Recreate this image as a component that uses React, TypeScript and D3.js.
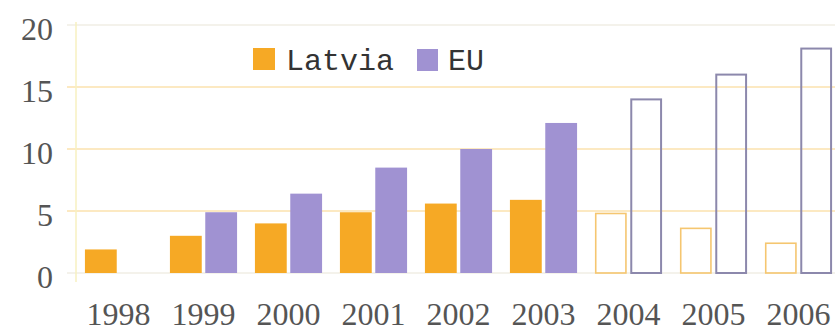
import React from "react";
import * as d3 from "d3";

const years = ["1998", "1999", "2000", "2001", "2002", "2003", "2004", "2005", "2006"];
const latvia = [1.9, 3.0, 4.0, 4.9, 5.6, 5.9, 4.8, 3.6, 2.4];
const eu: (number | null)[] = [null, 4.9, 6.4, 8.5, 10.0, 12.1, 14.0, 16.0, 18.1];
const projected = [false, false, false, false, false, false, true, true, true];
const yTicks = [0, 5, 10, 15, 20];
const seriesNames = ["Latvia", "EU"];

const W = 835;
const H = 331;
const ORANGE = "#F6A925";
const PURPLE = "#A092D2";
const ORANGE_LINE = "#F5C670";
const PURPLE_LINE = "#8C88AC";

export default function App() {
  const x0 = d3.scaleBand<string>().domain(years).range([76, 841]).paddingInner(0.21).paddingOuter(0.105);
  const x1 = d3.scaleBand<string>().domain(seriesNames).range([0, x0.bandwidth()]).paddingInner(0.1);
  const y = d3.scaleLinear().domain([0, 20]).range([273, 25]);

  const series = [
    { name: "Latvia", values: latvia, fill: ORANGE, line: ORANGE_LINE, sw: 1.6 },
    { name: "EU", values: eu, fill: PURPLE, line: PURPLE_LINE, sw: 2 },
  ];

  return (
    <svg width={W} height={H} style={{ position: "absolute", left: 0, top: 0, background: "#fff" }}>
      {/* gridlines */}
      {yTicks.map((t) => (
        <line
          key={"g" + t}
          x1={67}
          x2={W}
          y1={y(t)}
          y2={y(t)}
          stroke={t === 0 || t === 20 ? "#F1EEE4" : "#FBE2AE"}
          strokeWidth={1.5}
        />
      ))}
      {/* y axis */}
      <line x1={76} x2={76} y1={22} y2={282} stroke="#F7F0C0" strokeWidth={1.5} />
      {/* y tick labels */}
      {yTicks.map((t) => (
        <text
          key={"t" + t}
          x={53}
          y={y(t) + 4}
          dy="0.35em"
          textAnchor="end"
          fontFamily="'Liberation Serif', serif"
          fontSize={32}
          fill="#555"
        >
          {t}
        </text>
      ))}
      {/* bars */}
      {years.map((yr, i) => (
        <g key={yr} transform={`translate(${x0(yr)},0)`}>
          {series.map((s) => {
            const v = s.values[i];
            if (v == null) return null;
            const bx = x1(s.name)!;
            const bw = x1.bandwidth();
            const top = y(v);
            const h = y(0) - top;
            return projected[i] ? (
              <rect
                key={s.name}
                x={bx + s.sw / 2}
                y={top}
                width={bw - s.sw}
                height={h}
                fill="none"
                stroke={s.line}
                strokeWidth={s.sw}
              />
            ) : (
              <rect key={s.name} x={bx} y={top} width={bw} height={h} fill={s.fill} />
            );
          })}
        </g>
      ))}
      {/* x labels */}
      {years.map((yr) => (
        <text
          key={"x" + yr}
          x={x0(yr)! + x0.bandwidth() / 2}
          y={325}
          textAnchor="middle"
          fontFamily="'Liberation Serif', serif"
          fontSize={32}
          fill="#555"
        >
          {yr}
        </text>
      ))}
      {/* legend */}
      <rect x={253} y={48} width={22} height={22} fill={ORANGE} />
      <text x={286} y={70} fontFamily="'Liberation Mono', monospace" fontSize={30} fill="#333">
        Latvia
      </text>
      <rect x={417} y={49} width={21} height={22} fill={PURPLE} />
      <text x={448} y={70} fontFamily="'Liberation Mono', monospace" fontSize={30} fill="#333">
        EU
      </text>
    </svg>
  );
}
